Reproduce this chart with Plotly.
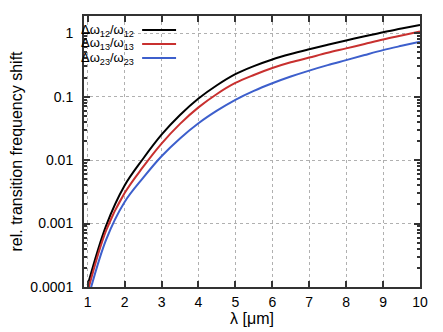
import plotly.graph_objects as go

# wavelength samples (um)
lam = [1.0, 1.5, 2.0, 2.5, 3.0, 3.5, 4.0, 4.5, 5.0, 5.5, 6.0, 6.5, 7.0, 7.5, 8.0, 8.5, 9.0, 9.5, 10.0]

# relative frequency shifts
shift_12 = [1.07e-4, 9.3e-4, 3.98e-3, 0.0105, 0.0251, 0.0513, 0.0933, 0.151, 0.226, 0.302,
            0.385, 0.468, 0.556, 0.656, 0.767, 0.891, 1.035, 1.18, 1.35]
shift_13 = [8.5e-5, 7.8e-4, 3.02e-3, 7.8e-3, 0.0182, 0.0372, 0.0676, 0.110, 0.164, 0.219,
            0.282, 0.347, 0.412, 0.49, 0.575, 0.676, 0.794, 0.918, 1.06]
shift_23 = [6.3e-5, 5.6e-4, 2.19e-3, 5.25e-3, 0.0115, 0.0219, 0.038, 0.060, 0.089, 0.123,
            0.162, 0.207, 0.257, 0.313, 0.376, 0.452, 0.54, 0.631, 0.733]

names = ["Δω<sub>12</sub>/ω<sub>12</sub>", "Δω<sub>13</sub>/ω<sub>13</sub>", "Δω<sub>23</sub>/ω<sub>23</sub>"]
colors = ["#000000", "#c8302f", "#3d5fcc"]
series = [shift_12, shift_13, shift_23]

x_ticks = [1, 2, 3, 4, 5, 6, 7, 8, 9, 10]
y_ticks = [1e-4, 1e-3, 1e-2, 1e-1, 1]
y_labels = ["0.0001", "0.001", "0.01", "0.1", "1"]

narrow = "Liberation Sans Narrow, Liberation Sans, Arial, sans-serif"
regular = "Liberation Sans, Arial, sans-serif"

fig = go.Figure()
for nm, col, ys in zip(names, colors, series):
    fig.add_trace(go.Scatter(x=lam, y=ys, mode="lines", name=nm, showlegend=False,
                             line=dict(color=col, width=2, shape="spline", smoothing=1.0)))

# gnuplot-style key: text on the left, line sample on the right
rows = [0.948, 0.897, 0.845]
for nm, col, yy in zip(names, colors, rows):
    fig.add_annotation(x=0.155, y=yy, xref="paper", yref="paper", text=nm, showarrow=False,
                       xanchor="right", yanchor="middle", font=dict(family=narrow, size=13, color="#000"))
    fig.add_shape(type="line", xref="paper", yref="paper", x0=0.173, x1=0.274, y0=yy, y1=yy,
                  line=dict(color=col, width=2))

minor_y = [m * 10.0 ** e for e in range(-4, 1) for m in range(2, 10)]

fig.update_xaxes(range=[0.9, 10], tickvals=x_ticks, ticks="inside", ticklen=6, tickwidth=1.5,
                 tickcolor="#333", showline=True, linecolor="#333", linewidth=2, mirror="ticks",
                 showgrid=True, gridcolor="#b0b0b0", griddash="dot", gridwidth=1, zeroline=False,
                 tickfont=dict(family=narrow, size=14, color="#000"), ticklabelstandoff=1, automargin=False,
                 title=dict(text="λ [μm]", font=dict(family=regular, size=16, color="#000"), standoff=3))
fig.update_yaxes(type="log", range=[-4, 0.27], tickvals=y_ticks, ticktext=y_labels, ticks="inside",
                 ticklen=6, tickwidth=1.5, tickcolor="#333", showline=True, linecolor="#333", linewidth=2,
                 mirror="ticks", showgrid=True, gridcolor="#b0b0b0", griddash="dot", gridwidth=1,
                 zeroline=False, tickfont=dict(family=narrow, size=14, color="#000"), ticklabelstandoff=6,
                 minor=dict(tickvals=minor_y, ticks="inside", ticklen=3, tickcolor="#333", showgrid=False),
                 automargin=False,
                 title=dict(text="rel. transition frequency shift", font=dict(family=regular, size=16, color="#000"),
                            standoff=7))

# page body adds an 8px offset, so the figure is slightly smaller than the window
fig.update_layout(width=435, height=324, margin=dict(l=76, r=23, t=8, b=45),
                  paper_bgcolor="white", plot_bgcolor="white")

fig.write_html("out.html")
